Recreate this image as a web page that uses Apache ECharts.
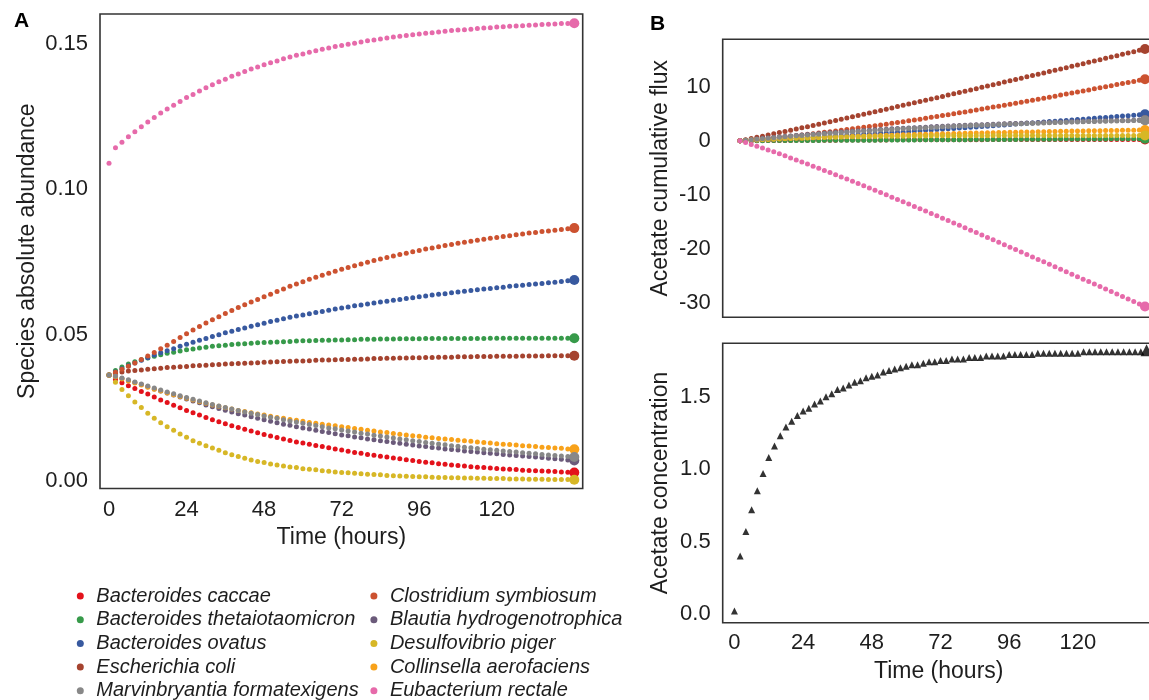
<!DOCTYPE html>
<html><head><meta charset="utf-8">
<script src="https://cdn.jsdelivr.net/npm/echarts@6/dist/echarts.min.js"></script>
<style>html,body{margin:0;padding:0;background:#fff;overflow:hidden;width:1149px;height:700px}#c{width:1165px;height:700px}</style>
</head><body><div id="c"></div>
<script>
// ---------- data ----------
const times = [0,2,4,6,8,10,12,14,16,18,20,22,24,26,28,30,32,34,36,38,40,42,44,46,48,50,52,54,56,58,60,62,64,66,68,70,72,74,76,78,80,82,84,86,88,90,92,94,96,98,100,102,104,106,108,110,112,114,116,118,120,122,124,126,128,130,132,134,136,138,140,142,144];
const timeTicks = [0,24,48,72,96,120];
const abundTicks = [0,0.05,0.10,0.15];
const fluxTicks = [-30,-20,-10,0,10];
const concTicks = [0,0.5,1.0,1.5];

// Panel A: species absolute abundance
const abCaccae = [.0363,.0347,.0336,.0326,.0316,.0306,.0297,.0287,.0277,.0268,.0259,.0250,.0241,.0233,.0225,.0217,.0209,.0202,.0195,.0188,.0182,.0176,.0170,.0164,.0158,.0153,.0148,.0143,.0138,.0133,.0129,.0125,.0121,.0117,.0113,.0109,.0105,.0101,.0097,.0094,.0090,.0087,.0084,.0081,.0078,.0075,.0072,.0069,.0066,.0063,.0061,.0058,.0056,.0054,.0052,.0050,.0048,.0046,.0045,.0043,.0042,.0040,.0039,.0038,.0036,.0035,.0034,.0033,.0032,.0031,.0030,.0029,.0028];
const abTheta = [.0363,.0378,.0390,.0400,.0408,.0415,.0421,.0427,.0432,.0437,.0441,.0445,.0449,.0452,.0455,.0458,.0461,.0463,.0465,.0467,.0469,.0470,.0472,.0473,.0474,.0475,.0476,.0477,.0478,.0479,.0480,.0480,.0481,.0482,.0482,.0483,.0483,.0484,.0484,.0485,.0485,.0485,.0486,.0486,.0486,.0487,.0487,.0487,.0487,.0488,.0488,.0488,.0488,.0488,.0488,.0488,.0488,.0488,.0488,.0489,.0489,.0489,.0489,.0489,.0489,.0489,.0489,.0489,.0489,.0489,.0489,.0489,.0489];
const abOvatus = [.0363,.0373,.0384,.0394,.0404,.0413,.0422,.0431,.0439,.0446,.0453,.0461,.0468,.0475,.0482,.0488,.0495,.0501,.0508,.0513,.0519,.0524,.0530,.0535,.0540,.0546,.0551,.0556,.0561,.0565,.0569,.0573,.0577,.0581,.0585,.0589,.0593,.0596,.0600,.0603,.0606,.0610,.0613,.0616,.0619,.0622,.0625,.0628,.0631,.0634,.0637,.0640,.0642,.0645,.0648,.0650,.0653,.0655,.0658,.0660,.0662,.0664,.0667,.0669,.0671,.0673,.0675,.0677,.0679,.0681,.0684,.0686,.0689];
const abEcoli = [.0363,.0369,.0373,.0376,.0378,.0380,.0382,.0384,.0386,.0388,.0389,.0391,.0392,.0394,.0395,.0396,.0398,.0399,.0400,.0401,.0402,.0403,.0404,.0405,.0406,.0407,.0408,.0409,.0410,.0411,.0411,.0412,.0413,.0414,.0414,.0415,.0416,.0416,.0417,.0417,.0418,.0419,.0419,.0420,.0420,.0421,.0421,.0422,.0422,.0423,.0423,.0424,.0424,.0424,.0425,.0425,.0425,.0426,.0426,.0426,.0427,.0427,.0427,.0427,.0428,.0428,.0428,.0428,.0429,.0429,.0429,.0429,.0429];
const abMarvin = [.0363,.0358,.0352,.0346,.0339,.0332,.0325,.0318,.0311,.0304,.0298,.0291,.0285,.0279,.0273,.0267,.0261,.0256,.0251,.0246,.0241,.0236,.0231,.0227,.0222,.0218,.0214,.0209,.0205,.0201,.0197,.0193,.0189,.0185,.0181,.0178,.0174,.0170,.0167,.0163,.0160,.0156,.0153,.0150,.0146,.0143,.0140,.0137,.0134,.0131,.0128,.0126,.0123,.0120,.0118,.0115,.0113,.0110,.0108,.0106,.0104,.0102,.0100,.0098,.0096,.0094,.0092,.0090,.0088,.0086,.0085,.0083,.0081];
const abClost = [.0363,.0372,.0382,.0393,.0404,.0416,.0428,.0440,.0453,.0465,.0478,.0491,.0504,.0517,.0529,.0541,.0552,.0563,.0574,.0584,.0594,.0604,.0613,.0622,.0631,.0640,.0649,.0658,.0667,.0675,.0683,.0691,.0698,.0705,.0712,.0719,.0726,.0732,.0738,.0744,.0750,.0756,.0761,.0766,.0771,.0776,.0781,.0786,.0790,.0795,.0799,.0803,.0807,.0811,.0815,.0818,.0822,.0825,.0829,.0832,.0835,.0838,.0841,.0844,.0847,.0850,.0852,.0855,.0857,.0860,.0862,.0865,.0867];
const abBlautia = [.0363,.0357,.0351,.0344,.0337,.0330,.0322,.0315,.0308,.0301,.0294,.0287,.0280,.0273,.0267,.0260,.0254,.0248,.0242,.0236,.0230,.0225,.0219,.0214,.0209,.0204,.0199,.0194,.0190,.0185,.0181,.0177,.0173,.0169,.0165,.0161,.0157,.0154,.0150,.0147,.0143,.0140,.0137,.0134,.0131,.0128,.0125,.0122,.0119,.0117,.0114,.0112,.0109,.0107,.0105,.0102,.0100,.0098,.0096,.0094,.0092,.0090,.0088,.0086,.0085,.0083,.0081,.0079,.0077,.0075,.0073,.0071,.0069];
const abDesulfo = [.0363,.0338,.0313,.0291,.0270,.0251,.0231,.0214,.0199,.0185,.0173,.0160,.0149,.0137,.0128,.0120,.0112,.0104,.0096,.0089,.0083,.0077,.0071,.0066,.0062,.0057,.0054,.0050,.0047,.0045,.0041,.0039,.0037,.0034,.0032,.0030,.0028,.0027,.0025,.0024,.0022,.0021,.0020,.0018,.0017,.0016,.0015,.0014,.0013,.0013,.0012,.0011,.0011,.0010,.0010,.0009,.0009,.0008,.0008,.0007,.0007,.0007,.0006,.0006,.0006,.0005,.0005,.0005,.0004,.0004,.0004,.0004,.0003];
const abCollin = [.0363,.0356,.0349,.0342,.0335,.0328,.0321,.0314,.0308,.0301,.0295,.0289,.0283,.0277,.0271,.0266,.0260,.0255,.0250,.0246,.0241,.0237,.0233,.0229,.0225,.0221,.0217,.0214,.0210,.0207,.0204,.0200,.0197,.0194,.0191,.0188,.0185,.0182,.0179,.0176,.0173,.0170,.0167,.0165,.0162,.0159,.0157,.0154,.0152,.0149,.0147,.0145,.0143,.0141,.0139,.0137,.0135,.0133,.0131,.0129,.0127,.0125,.0124,.0122,.0120,.0119,.0117,.0115,.0114,.0112,.0111,.0109,.0108];
const abEubact = [.1090,.1143,.1162,.1181,.1198,.1215,.1231,.1247,.1262,.1276,.1289,.1302,.1315,.1326,.1338,.1349,.1359,.1369,.1378,.1388,.1396,.1405,.1413,.1420,.1428,.1435,.1441,.1448,.1454,.1460,.1465,.1471,.1476,.1481,.1485,.1490,.1494,.1498,.1502,.1506,.1510,.1513,.1516,.1520,.1523,.1526,.1528,.1531,.1533,.1536,.1538,.1540,.1543,.1545,.1547,.1548,.1550,.1552,.1554,.1555,.1557,.1558,.1560,.1561,.1562,.1563,.1564,.1566,.1567,.1568,.1569,.1569,.1570];

// Panel B (top): acetate cumulative flux
const fxCaccae = [0,.01,.02,.03,.03,.04,.05,.06,.07,.07,.08,.09,.09,.10,.11,.11,.12,.12,.13,.13,.14,.14,.15,.15,.16,.16,.16,.17,.17,.18,.18,.18,.19,.19,.19,.20,.20,.20,.20,.21,.21,.21,.21,.21,.22,.22,.22,.22,.22,.23,.23,.23,.23,.23,.23,.24,.24,.24,.24,.24,.24,.24,.24,.24,.25,.25,.25,.25,.25,.25,.25,.25,.25];
const fxTheta = [0,.01,.01,.02,.02,.03,.03,.04,.04,.05,.05,.06,.06,.07,.07,.08,.08,.09,.09,.10,.10,.11,.11,.12,.12,.13,.14,.14,.15,.15,.16,.16,.17,.17,.18,.18,.19,.20,.20,.21,.21,.22,.22,.23,.23,.24,.25,.25,.26,.26,.27,.27,.28,.28,.29,.30,.30,.31,.31,.32,.32,.33,.34,.34,.35,.35,.36,.36,.37,.38,.38,.39,.39];
const fxOvatus = [0,.04,.09,.14,.19,.23,.28,.33,.39,.44,.49,.54,.60,.66,.71,.77,.83,.89,.95,1.01,1.07,1.13,1.20,1.26,1.32,1.39,1.45,1.52,1.58,1.65,1.72,1.79,1.86,1.93,2.00,2.07,2.13,2.21,2.28,2.35,2.42,2.49,2.57,2.64,2.71,2.79,2.86,2.94,3.01,3.09,3.16,3.24,3.31,3.39,3.47,3.55,3.62,3.70,3.78,3.86,3.94,4.01,4.09,4.17,4.25,4.33,4.41,4.49,4.57,4.65,4.74,4.82,4.90];
const fxEcoli = [0,.21,.42,.64,.86,1.08,1.30,1.52,1.74,1.96,2.18,2.40,2.62,2.85,3.08,3.31,3.54,3.77,4.00,4.23,4.46,4.69,4.92,5.15,5.38,5.62,5.85,6.09,6.33,6.56,6.80,7.04,7.27,7.51,7.75,7.98,8.22,8.46,8.70,8.94,9.18,9.42,9.66,9.90,10.14,10.39,10.63,10.87,11.11,11.35,11.60,11.84,12.09,12.33,12.57,12.82,13.06,13.31,13.55,13.80,14.04,14.29,14.53,14.78,15.03,15.27,15.52,15.77,16.01,16.26,16.51,16.75,17.00];
const fxMarvin = [0,.10,.20,.29,.39,.48,.57,.66,.75,.83,.92,1.00,1.08,1.16,1.23,1.31,1.38,1.46,1.53,1.60,1.66,1.73,1.79,1.86,1.92,1.98,2.04,2.10,2.16,2.22,2.27,2.33,2.38,2.43,2.48,2.53,2.58,2.63,2.68,2.72,2.77,2.81,2.86,2.90,2.94,2.98,3.02,3.06,3.10,3.13,3.17,3.20,3.24,3.27,3.31,3.34,3.37,3.40,3.43,3.46,3.49,3.52,3.55,3.57,3.60,3.63,3.66,3.68,3.71,3.73,3.75,3.78,3.80];
const fxClost = [0,.08,.17,.26,.35,.45,.55,.65,.75,.86,.97,1.08,1.20,1.32,1.44,1.56,1.69,1.82,1.94,2.08,2.22,2.36,2.50,2.64,2.78,2.93,3.08,3.23,3.38,3.54,3.69,3.85,4.01,4.18,4.34,4.50,4.67,4.84,5.01,5.18,5.35,5.53,5.70,5.88,6.06,6.24,6.42,6.60,6.78,6.96,7.15,7.33,7.52,7.71,7.89,8.08,8.27,8.46,8.65,8.84,9.04,9.23,9.43,9.62,9.82,10.01,10.21,10.41,10.61,10.80,11.00,11.20,11.40];
const fxBlautia = [0,.10,.21,.31,.41,.51,.62,.71,.80,.89,.98,1.07,1.16,1.23,1.31,1.39,1.47,1.55,1.63,1.69,1.76,1.83,1.90,1.96,2.03,2.09,2.15,2.21,2.27,2.32,2.38,2.43,2.48,2.53,2.58,2.64,2.69,2.73,2.77,2.82,2.86,2.91,2.95,2.99,3.03,3.07,3.11,3.14,3.18,3.21,3.25,3.28,3.31,3.35,3.38,3.41,3.44,3.47,3.50,3.53,3.56,3.59,3.61,3.64,3.66,3.69,3.72,3.74,3.76,3.78,3.81,3.83,3.85];
const fxDesulfo = [0,.07,.13,.19,.25,.30,.35,.39,.44,.48,.51,.54,.58,.60,.63,.65,.68,.70,.72,.74,.75,.77,.78,.80,.81,.82,.83,.84,.85,.86,.88,.88,.89,.90,.91,.91,.92,.92,.93,.93,.94,.94,.95,.95,.95,.96,.96,.96,.97,.97,.97,.97,.98,.98,.98,.98,.98,.99,.99,.99,.99,.99,.99,.99,1.00,1.00,1.00,1.00,1.00,1.00,1.00,1.00,1.00];
const fxCollin = [0,.05,.09,.14,.19,.24,.28,.33,.37,.41,.45,.49,.53,.57,.61,.64,.68,.72,.76,.79,.82,.85,.89,.92,.95,.98,1.01,1.04,1.07,1.10,1.13,1.16,1.19,1.21,1.24,1.27,1.30,1.32,1.34,1.37,1.39,1.42,1.44,1.46,1.48,1.51,1.53,1.55,1.57,1.59,1.61,1.63,1.65,1.67,1.69,1.71,1.73,1.75,1.77,1.79,1.81,1.82,1.84,1.86,1.87,1.89,1.91,1.92,1.94,1.95,1.97,1.98,2.00];
const fxEubact = [0,-.33,-.67,-1.01,-1.36,-1.70,-2.05,-2.42,-2.79,-3.17,-3.55,-3.93,-4.30,-4.70,-5.10,-5.49,-5.89,-6.29,-6.69,-7.10,-7.51,-7.93,-8.34,-8.75,-9.17,-9.59,-10.02,-10.44,-10.87,-11.30,-11.73,-12.16,-12.60,-13.03,-13.47,-13.90,-14.34,-14.78,-15.23,-15.67,-16.11,-16.56,-17.00,-17.45,-17.90,-18.35,-18.80,-19.25,-19.70,-20.15,-20.61,-21.06,-21.52,-21.97,-22.42,-22.88,-23.34,-23.80,-24.25,-24.71,-25.17,-25.63,-26.09,-26.55,-27.01,-27.47,-27.93,-28.39,-28.85,-29.32,-29.78,-30.24,-30.70];

// Panel B (bottom): acetate concentration
const acetate = [.02,.40,.57,.72,.85,.97,1.08,1.16,1.23,1.29,1.33,1.37,1.40,1.42,1.45,1.47,1.50,1.52,1.55,1.56,1.58,1.60,1.61,1.63,1.64,1.65,1.67,1.68,1.69,1.70,1.71,1.72,1.72,1.73,1.74,1.74,1.75,1.75,1.76,1.76,1.76,1.77,1.77,1.77,1.78,1.78,1.78,1.78,1.79,1.79,1.79,1.79,1.79,1.80,1.80,1.80,1.80,1.80,1.80,1.80,1.80,1.81,1.81,1.81,1.81,1.81,1.81,1.81,1.81,1.81,1.81,1.81,1.82];

const speciesNames = ['Bacteroides caccae','Bacteroides thetaiotaomicron','Bacteroides ovatus','Escherichia coli','Marvinbryantia formatexigens','Clostridium symbiosum','Blautia hydrogenotrophica','Desulfovibrio piger','Collinsella aerofaciens','Eubacterium rectale'];
const speciesColors = ['#e3121b','#379a4a','#38599f','#a5432f','#888888','#cc5230','#6b5a7a','#d7b726','#f8a21a','#e66aaa'];
const abundance = [abCaccae,abTheta,abOvatus,abEcoli,abMarvin,abClost,abBlautia,abDesulfo,abCollin,abEubact];
const flux = [fxCaccae,fxTheta,fxOvatus,fxEcoli,fxMarvin,fxClost,fxBlautia,fxDesulfo,fxCollin,fxEubact];
const drawOrder = [0,1,2,3,5,6,8,7,4,9];

// ---------- chart ----------
const FONT = 'Liberation Sans, Arial, sans-serif';
const TXT = '#1e1e1e';
const last = times.length - 1;
const pairs = arr => times.map((t, i) => [t, arr[i]]);

const series = [];
drawOrder.forEach(k => {
  series.push({
    type: 'scatter', name: speciesNames[k], xAxisIndex: 0, yAxisIndex: 0,
    data: pairs(abundance[k]), symbol: 'circle',
    symbolSize: (v, p) => p.dataIndex === last ? 10 : 5,
    itemStyle: { color: speciesColors[k], opacity: 1 }, silent: true
  });
});
drawOrder.forEach(k => {
  series.push({
    type: 'scatter', name: speciesNames[k], xAxisIndex: 1, yAxisIndex: 1,
    data: pairs(flux[k]), symbol: 'circle',
    symbolSize: (v, p) => p.dataIndex === last ? 10 : 5,
    itemStyle: { color: speciesColors[k], opacity: 1 }, silent: true
  });
});
series.push({
  type: 'scatter', name: 'Acetate', xAxisIndex: 2, yAxisIndex: 2,
  data: pairs(acetate), symbol: 'triangle',
  symbolSize: (v, p) => p.dataIndex === last ? 12 : 7,
  itemStyle: { color: '#000' }, silent: true
});

const baseAxis = {
  type: 'value', axisLine: { show: false }, axisTick: { show: false },
  splitLine: { show: false }, nameLocation: 'middle',
  nameTextStyle: { fontSize: 23, fontFamily: FONT, color: TXT }
};
const lab = (vals, fmt, margin) => ({
  show: true, customValues: vals, formatter: fmt, margin: margin,
  fontSize: 22, fontFamily: FONT, color: TXT
});
const legendText = { fontSize: 20, fontStyle: 'italic', fontFamily: FONT, color: TXT };

const option = {
  animation: false,
  backgroundColor: '#fff',
  title: [
    { text: 'A', left: 9, top: 6, textStyle: { fontSize: 21, fontWeight: 'bold', fontFamily: FONT, color: '#000' } },
    { text: 'B', left: 645, top: 9, textStyle: { fontSize: 21, fontWeight: 'bold', fontFamily: FONT, color: '#000' } }
  ],
  grid: [
    { left: 100, top: 14, width: 482.7, height: 474.5, show: true, borderColor: '#333', borderWidth: 1.6, containLabel: false },
    { left: 722.7, top: 39.3, width: 432, height: 278, show: true, borderColor: '#333', borderWidth: 1.6, containLabel: false },
    { left: 722.7, top: 343.3, width: 432, height: 279.4, show: true, borderColor: '#333', borderWidth: 1.6, containLabel: false }
  ],
  xAxis: [
    Object.assign({}, baseAxis, { gridIndex: 0, min: -2.79, max: 146.6, name: 'Time (hours)', nameGap: 38,
      axisLabel: lab(timeTicks, v => String(v), 10) }),
    Object.assign({}, baseAxis, { gridIndex: 1, min: -6.15, max: 147.45, axisLabel: { show: false } }),
    Object.assign({}, baseAxis, { gridIndex: 2, min: -4.1, max: 146.85, name: 'Time (hours)', nameGap: 37,
      axisLabel: lab(timeTicks, v => String(v), 9) })
  ],
  yAxis: [
    Object.assign({}, baseAxis, { gridIndex: 0, min: -0.0027, max: 0.1602, name: 'Species absolute abundance', nameGap: 61,
      axisLabel: lab(abundTicks, v => v.toFixed(2), 12) }),
    Object.assign({}, baseAxis, { gridIndex: 1, min: -32.7, max: 18.8, name: 'Acetate cumulative flux', nameGap: 51,
      axisLabel: lab(fluxTicks, v => String(Math.round(v)), 12) }),
    Object.assign({}, baseAxis, { gridIndex: 2, min: -0.06, max: 1.868, name: 'Acetate concentration', nameGap: 51,
      axisLabel: lab(concTicks, v => v.toFixed(1), 12) })
  ],
  legend: [
    { data: speciesNames.slice(0, 5), left: 76.8, top: 586, width: 300, height: 160, orient: 'vertical', icon: 'circle',
      itemWidth: 22, itemHeight: 7, itemGap: 3.7, selectedMode: false, padding: 0, textStyle: legendText },
    { data: speciesNames.slice(5), left: 370.4, top: 586, width: 300, height: 160, orient: 'vertical', icon: 'circle',
      itemWidth: 22, itemHeight: 7, itemGap: 3.7, selectedMode: false, padding: 0, textStyle: legendText }
  ],
  series: series
};

const chart = echarts.init(document.getElementById('c'), null, { renderer: 'canvas', width: 1165, height: 700 });
chart.setOption(option);
</script>
</body></html>
